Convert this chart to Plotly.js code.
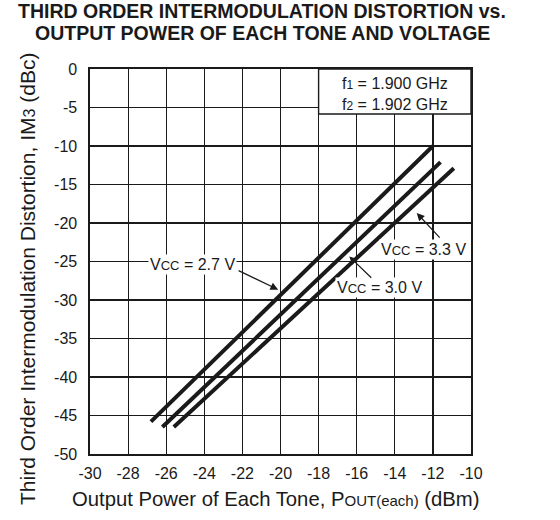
<!DOCTYPE html>
<html>
<head>
<meta charset="utf-8">
<script src="https://cdn.plot.ly/plotly-3.0.1.min.js"></script>
<style>
html,body{margin:0;padding:0;background:#fff;}
#chart{width:560px;height:520px;}
</style>
</head>
<body>
<div id="chart"></div>
<script>
// ---- data ----
var seriesNames = ["VCC = 2.7 V", "VCC = 3.0 V", "VCC = 3.3 V"];
var pout27 = [-26.8, -12.0];
var im3_27 = [-45.8, -10.0];
var pout30 = [-26.2, -11.6];
var im3_30 = [-46.5, -12.1];
var pout33 = [-25.6, -10.9];
var im3_33 = [-46.5, -12.9];

var xTickVals = [-30, -28, -26, -24, -22, -20, -18, -16, -14, -12, -10];
var xTickText = ["-30", "-28", "-26", "-24", "-22", "-20", "-18", "-16", "-14", "-12", "-10"];
var yTickVals = [0, -5, -10, -15, -20, -25, -30, -35, -40, -45, -50];
var yTickText = ["0", "-5", "-10", "-15", "-20", "-25", "-30", "-35", "-40", "-45", "-50"];

var FONT = "Liberation Sans, Arial, Helvetica, sans-serif";
var INK = "#1a1a1a";

function lineTrace(x, y, name) {
  return {
    type: "scatter", mode: "lines", x: x, y: y, name: name,
    line: {color: INK, width: 4}, hoverinfo: "skip", showlegend: false
  };
}

var data = [
  lineTrace(pout27, im3_27, seriesNames[0]),
  lineTrace(pout30, im3_30, seriesNames[1]),
  lineTrace(pout33, im3_33, seriesNames[2])
];

function vccLabel(volts) {
  return 'V<span style="font-size:13px">CC</span> = ' + volts + ' V';
}

var labelFont = {family: FONT, size: 16, color: INK};

function arrow(x, y, ax, ay) {
  return {x: x, y: y, xref: "x", yref: "y", ax: ax, ay: ay, text: " ", showarrow: true,
    arrowhead: 2, arrowsize: 1.3, arrowwidth: 1.2, arrowcolor: INK, standoff: 0, font: {size: 2}};
}

var annotations = [
  // title (two lines)
  {xref: "paper", yref: "paper", x: (262 - 90) / 381, y: (454 - 11) / 385, xanchor: "center", yanchor: "middle",
   showarrow: false, text: "<b>THIRD ORDER INTERMODULATION DISTORTION vs.</b>",
   font: {family: FONT, size: 19.5, color: INK}},
  {xref: "paper", yref: "paper", x: (262 - 90) / 381, y: (454 - 33) / 385, xanchor: "center", yanchor: "middle",
   showarrow: false, text: "<b>OUTPUT POWER OF EACH TONE AND VOLTAGE</b>",
   font: {family: FONT, size: 19.5, color: INK}},
  // curve labels
  {x: -24.62, y: -25.42, xref: "x", yref: "y", text: vccLabel("2.7"), showarrow: false,
   font: labelFont, bgcolor: "#fff", borderpad: 1},
  {x: -14.78, y: -28.44, xref: "x", yref: "y", text: vccLabel("3.0"), showarrow: false,
   font: labelFont, bgcolor: "#fff", borderpad: 1},
  {x: -12.48, y: -23.47, xref: "x", yref: "y", text: vccLabel("3.3"), showarrow: false,
   font: labelFont, bgcolor: "#fff", borderpad: 1},
  // arrows
  arrow(-20.12, -28.66, -41.6, -20),
  arrow(-16.39, -24.34, 24, 23.3),
  arrow(-12.85, -18.70, 25, 26.7),
  // frequency box text
  {x: -14, y: -3.25, xref: "x", yref: "y",
   text: 'f<span style="font-size:12px">1</span> = 1.900 GHz<br>f<span style="font-size:12px">2</span> = 1.902 GHz',
   showarrow: false, font: {family: FONT, size: 16, color: INK}, align: "center"},
  // y-axis title
  {xref: "paper", yref: "paper", x: (27 - 90) / 381, y: (454 - 279) / 385, xanchor: "center", yanchor: "middle",
   textangle: -90, showarrow: false,
   text: 'Third Order Intermodulation Distortion, IM<span style="font-size:16px">3</span> (dBc)',
   font: {family: FONT, size: 21, color: INK}},
  // x-axis title
  {xref: "paper", yref: "paper", x: (276 - 90) / 381, y: (454 - 499) / 385, xanchor: "center", yanchor: "middle",
   showarrow: false,
   text: 'Output Power of Each Tone, P<span style="font-size:15px">OUT(each)</span> (dBm)',
   font: {family: FONT, size: 20.3, color: INK}}
];

var layout = {
  width: 560, height: 520,
  margin: {l: 90, r: 89, t: 69, b: 66, pad: 0},
  paper_bgcolor: "#fff", plot_bgcolor: "#fff",
  showlegend: false,
  xaxis: {
    range: [-30, -10], tickvals: xTickVals, ticktext: xTickText,
    showgrid: true, gridcolor: INK, gridwidth: 1.2, zeroline: false,
    showline: true, mirror: true, linecolor: INK, linewidth: 1.6,
    ticks: "", tickfont: {family: FONT, size: 16, color: INK}, ticklabelstandoff: 4,
    fixedrange: true
  },
  yaxis: {
    range: [-50, 0], tickvals: yTickVals, ticktext: yTickText,
    showgrid: true, gridcolor: INK, gridwidth: 1.2, zeroline: false,
    showline: true, mirror: true, linecolor: INK, linewidth: 1.6,
    ticks: "", tickfont: {family: FONT, size: 16, color: INK}, ticklabelstandoff: 8,
    fixedrange: true
  },
  shapes: [
    {type: "rect", xref: "x", yref: "y", x0: -18, x1: -10, y0: -5.85, y1: 0,
     fillcolor: "#fff", line: {color: INK, width: 1.4}, layer: "above"}
  ],
  annotations: annotations
};

Plotly.newPlot("chart", data, layout, {displayModeBar: false, staticPlot: true});
</script>
</body>
</html>
